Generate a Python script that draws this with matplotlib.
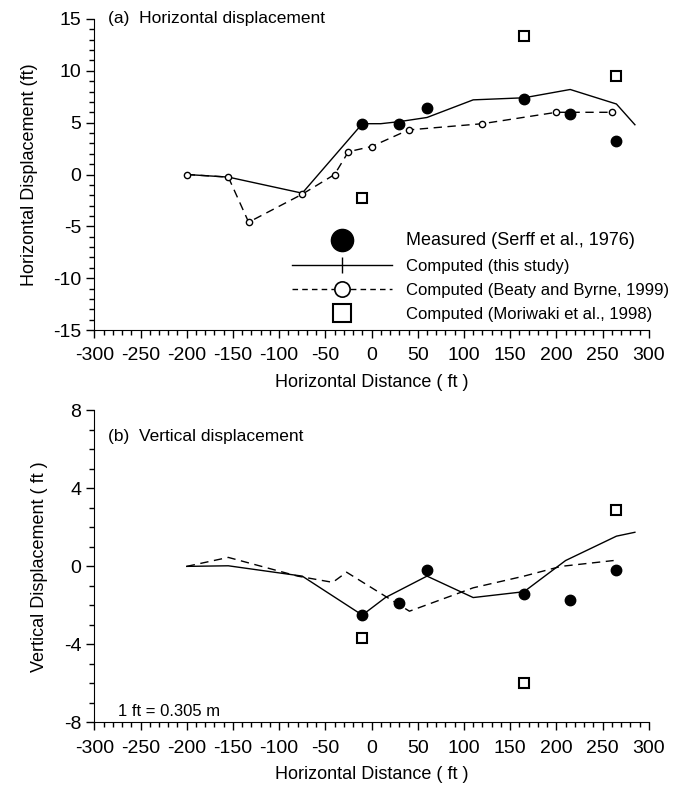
import matplotlib
matplotlib.use("Agg")
import matplotlib.pyplot as plt
from matplotlib.lines import Line2D
from matplotlib.ticker import MultipleLocator

plt.rcParams['font.family'] = ['Liberation Sans', 'DejaVu Sans']
plt.rcParams['axes.unicode_minus'] = False

# ---- panel (a): horizontal displacement ----
meas_x = [-10, 30, 60, 165, 215, 265]
meas_h = [4.9, 4.9, 6.4, 7.3, 5.8, 3.2]
moriwaki_x = [-10, 165, 265]
moriwaki_h = [-2.3, 13.4, 9.5]
study_h_x = [-200, -155, -75, -10, 10, 30, 60, 110, 165, 215, 265, 285]
study_h = [0, -0.25, -1.8, 4.9, 4.9, 5.1, 5.5, 7.2, 7.4, 8.2, 6.8, 4.8]
beaty_h_x = [-200, -155, -133, -75, -40, -25, 0, 40, 120, 200, 260]
beaty_h = [0, -0.25, -4.6, -1.9, 0, 2.2, 2.7, 4.3, 4.9, 6.0, 6.0]

# ---- panel (b): vertical displacement ----
meas_v = [-2.5, -1.9, -0.2, -1.4, -1.7, -0.2]
moriwaki_v = [-3.7, -6.0, 2.9]
study_v_x = [-200, -155, -75, -10, 15, 60, 110, 165, 210, 265, 285]
study_v = [0, 0.03, -0.5, -2.5, -1.6, -0.5, -1.6, -1.3, 0.3, 1.55, 1.75]
beaty_v_x = [-200, -155, -80, -42, -27, 41, 110, 165, 205, 262]
beaty_v = [0, 0.46, -0.5, -0.82, -0.3, -2.3, -1.1, -0.5, 0.0, 0.3]

fig = plt.figure(figsize=(6.89, 7.88), dpi=100)
ax1 = fig.add_axes([0.1369, 0.5812, 0.8047, 0.3947])
ax2 = fig.add_axes([0.1369, 0.0834, 0.8047, 0.3957])


def style_axis(ax, ylim, ymajor):
    ax.set_xlim(-300, 300)
    ax.set_ylim(*ylim)
    ax.spines['top'].set_visible(False)
    ax.spines['right'].set_visible(False)
    ax.xaxis.set_major_locator(MultipleLocator(50))
    ax.xaxis.set_minor_locator(MultipleLocator(10))
    ax.yaxis.set_major_locator(MultipleLocator(ymajor))
    ax.yaxis.set_minor_locator(MultipleLocator(1))
    ax.tick_params(which='major', direction='out', length=5.5, width=1, labelsize=14)
    ax.tick_params(which='minor', direction='out', length=3.5, width=1)
    ax.tick_params(axis='x', which='major', pad=7)
    ax.tick_params(axis='y', which='major', pad=4)
    ax.set_xlabel('Horizontal Distance ( ft )', fontsize=13, labelpad=7)


# panel a
ax1.plot(study_h_x, study_h, color='black', lw=1)
ax1.plot(beaty_h_x, beaty_h, color='black', lw=1, ls=(0, (6, 4)),
         marker='o', ms=4.5, mfc='white', mec='black', mew=1)
ax1.plot(meas_x, meas_h, 'o', color='black', ms=7.5)
ax1.plot(moriwaki_x, moriwaki_h, 's', ms=7.5, mfc='none', mec='black', mew=1.5)
style_axis(ax1, (-15, 15), 5)
ax1.set_ylabel('Horizontal Displacement (ft)', fontsize=13, labelpad=11)
ax1.text(0.024, 1.0, '(a)  Horizontal displacement', transform=ax1.transAxes,
         fontsize=12.5, va='center', ha='left')

handles = [
    Line2D([], [], ls='none', marker='o', color='black', ms=16),
    Line2D([], [], color='black', lw=1, marker='|', ms=12, mew=1),
    Line2D([], [], color='black', lw=1, ls=(0, (4, 3)), marker='o', ms=11,
           mfc='white', mec='black', mew=1.2),
    Line2D([], [], ls='none', marker='s', ms=12.5, mfc='none', mec='black', mew=1.5),
]
labels = ['Measured (Serff et al., 1976)', 'Computed (this study)',
          'Computed (Beaty and Byrne, 1999)', 'Computed (Moriwaki et al., 1998)']
leg = ax1.legend(handles, labels, loc='lower left', bbox_to_anchor=(0.357, 0.026),
                 frameon=False, fontsize=12, handlelength=6.0, handletextpad=0.8,
                 labelspacing=0.55, borderpad=0, borderaxespad=0)
leg.get_texts()[0].set_fontsize(13)

# panel b
ax2.plot(study_v_x, study_v, color='black', lw=1)
ax2.plot(beaty_v_x, beaty_v, color='black', lw=1, ls=(0, (6, 4)))
ax2.plot(meas_x, meas_v, 'o', color='black', ms=7.5)
ax2.plot(moriwaki_x, moriwaki_v, 's', ms=7.5, mfc='none', mec='black', mew=1.5)
style_axis(ax2, (-8, 8), 4)
ax2.set_ylabel('Vertical Displacement ( ft )', fontsize=13, labelpad=11)
ax2.text(0.024, 0.918, '(b)  Vertical displacement', transform=ax2.transAxes,
         fontsize=12.5, va='center', ha='left')
ax2.text(0.043, 0.035, '1 ft = 0.305 m', transform=ax2.transAxes,
         fontsize=12, va='center', ha='left')

fig.savefig('out.png', dpi=100)
